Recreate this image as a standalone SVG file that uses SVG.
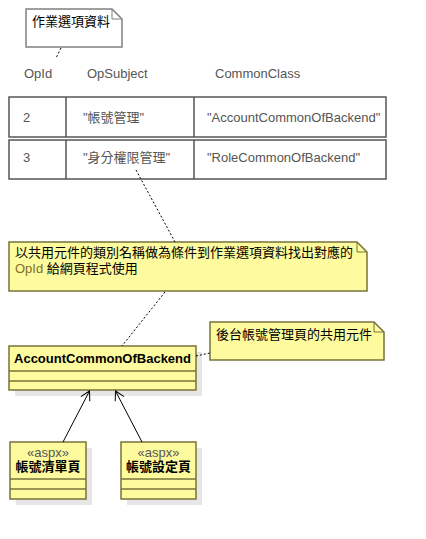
<svg xmlns="http://www.w3.org/2000/svg" width="426" height="539" viewBox="0 0 426 539">
<defs>
<style>
text{font-family:"Liberation Sans","Noto Sans CJK TC",Arial,sans-serif;font-size:13px;fill:#000}
.g{fill:#555}
.b{font-weight:bold}
.note{fill:#fdfb9e;stroke:#77733a;stroke-width:1.5}
.cls{fill:#fdfb9e;stroke:#77733a;stroke-width:1.5}
.cl{stroke:#77733a;stroke-width:1.5}
.sh{fill:#e6e6e6}
.cell{fill:#fff;stroke:#555;stroke-width:1.5}
.dash{stroke:#000;stroke-width:1;stroke-dasharray:2,2;fill:none}
.arr{stroke:#000;stroke-width:1;fill:none}
</style>
<marker id="open" markerWidth="12" markerHeight="12" refX="10" refY="6" orient="auto" markerUnits="userSpaceOnUse">
<path d="M1,1 L10,6 L1,11" fill="none" stroke="#000" stroke-width="1"/>
</marker>
</defs>
<rect width="426" height="539" fill="#fff"/>

<g id="note-top">
<path d="M26,9 L112,9 L122,19 L122,47 L26,47 Z" fill="#fff" stroke="#808080" stroke-width="1.5"/>
<path d="M112,9 L112,19 L122,19" fill="none" stroke="#808080" stroke-width="1"/>
<text x="32" y="26">作業選項資料</text>
</g>

<g id="headers">
<text class="g" x="24" y="78">OpId</text>
<text class="g" x="87" y="78">OpSubject</text>
<text class="g" x="215" y="78">CommonClass</text>
</g>

<g id="row1">
<rect class="cell" x="9" y="97" width="377" height="40"/>
<line x1="66" y1="97" x2="66" y2="137" stroke="#555" stroke-width="1.5"/>
<line x1="194" y1="97" x2="194" y2="137" stroke="#555" stroke-width="1.5"/>
<text class="g" x="23" y="122">2</text>
<text class="g" x="83" y="122">"帳號管理"</text>
<text class="g" x="207" y="122">"AccountCommonOfBackend"</text>
</g>

<g id="row2">
<rect class="cell" x="9" y="140" width="377" height="39"/>
<line x1="66" y1="140" x2="66" y2="179" stroke="#555" stroke-width="1.5"/>
<line x1="194" y1="140" x2="194" y2="179" stroke="#555" stroke-width="1.5"/>
<text class="g" x="23" y="162">3</text>
<text class="g" x="83" y="162">"身分權限管理"</text>
<text class="g" x="207" y="162">"RoleCommonOfBackend"</text>
</g>

<g id="note-main">
<path class="note" d="M9,242 L357,242 L367,252 L367,291 L9,291 Z"/>
<path d="M357,242 L357,252 L367,252" fill="none" stroke="#77733a" stroke-width="1"/>
<text x="15" y="257">以共用元件的類別名稱做為條件到作業選項資料找出對應的</text>
<text x="15" y="273"><tspan fill="#7d6f2a">OpId</tspan> 給網頁程式使用</text>
</g>

<g id="note-side">
<path class="note" d="M210,322 L374,322 L384,332 L384,360 L210,360 Z"/>
<path d="M374,322 L374,332 L384,332" fill="none" stroke="#77733a" stroke-width="1"/>
<text x="216" y="339">後台帳號管理頁的共用元件</text>
</g>

<g id="class-account">
<rect class="sh" x="15" y="352" width="187" height="44"/>
<rect class="cls" x="9" y="346" width="187" height="44"/>
<line class="cl" x1="9" y1="371" x2="196" y2="371"/>
<line class="cl" x1="9" y1="381" x2="196" y2="381"/>
<text class="b" x="102.5" y="363" text-anchor="middle">AccountCommonOfBackend</text>
</g>

<g id="class-list">
<rect class="sh" x="16" y="448" width="76" height="57"/>
<rect class="cls" x="10" y="442" width="76" height="57"/>
<line class="cl" x1="10" y1="479" x2="86" y2="479"/>
<line class="cl" x1="10" y1="489" x2="86" y2="489"/>
<text x="48" y="457" text-anchor="middle" class="g">«aspx»</text>
<text class="b" x="48" y="471" text-anchor="middle">帳號清單頁</text>
</g>

<g id="class-edit">
<rect class="sh" x="127" y="448" width="75" height="57"/>
<rect class="cls" x="121" y="442" width="75" height="57"/>
<line class="cl" x1="121" y1="479" x2="196" y2="479"/>
<line class="cl" x1="121" y1="489" x2="196" y2="489"/>
<text x="158.5" y="457" text-anchor="middle" class="g">«aspx»</text>
<text class="b" x="158.5" y="471" text-anchor="middle">帳號設定頁</text>
</g>

<g id="connectors">
<line class="dash" x1="61" y1="48" x2="56" y2="58"/>
<line class="dash" x1="136" y1="170" x2="175" y2="242"/>
<line class="dash" x1="165" y1="292" x2="122" y2="346"/>
<line class="dash" x1="196" y1="356" x2="210" y2="353"/>
<line class="arr" x1="63" y1="442" x2="89.5" y2="391" marker-end="url(#open)"/>
<line class="arr" x1="142" y1="442" x2="115.5" y2="391" marker-end="url(#open)"/>
</g>
</svg>
